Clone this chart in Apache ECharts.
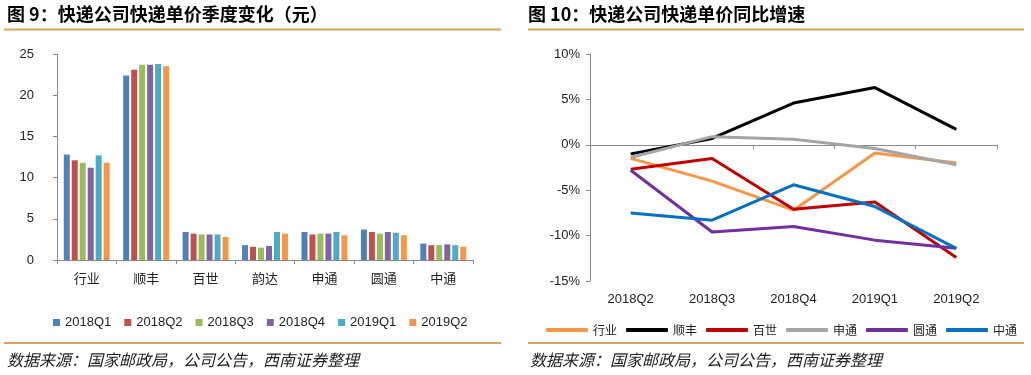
<!DOCTYPE html>
<html>
<head>
<meta charset="utf-8">
<script src="https://cdn.jsdelivr.net/npm/echarts@6/dist/echarts.min.js"></script>
<style>
html,body{margin:0;padding:0;background:#fff;}
#c{width:1031px;height:375px;}
</style>
</head>
<body>
<div id="c"></div>
<script>
// ---- Left chart data (元) ----
var companies = ['行业', '顺丰', '百世', '韵达', '申通', '圆通', '中通'];
var barSeriesNames = ['2018Q1', '2018Q2', '2018Q3', '2018Q4', '2019Q1', '2019Q2'];
var v2018Q1 = [12.8, 22.4, 3.4, 1.8, 3.4, 3.7, 2.0];
var v2018Q2 = [12.1, 23.1, 3.2, 1.6, 3.1, 3.4, 1.8];
var v2018Q3 = [11.8, 23.7, 3.1, 1.5, 3.2, 3.2, 1.8];
var v2018Q4 = [11.2, 23.7, 3.1, 1.7, 3.2, 3.4, 1.9];
var v2019Q1 = [12.7, 23.8, 3.1, 3.4, 3.4, 3.3, 1.8];
var v2019Q2 = [11.8, 23.5, 2.8, 3.2, 3.0, 3.0, 1.6];
var barValues = [v2018Q1, v2018Q2, v2018Q3, v2018Q4, v2019Q1, v2019Q2];

// ---- Right chart data (%) ----
var quarters = ['2018Q2', '2018Q3', '2018Q4', '2019Q1', '2019Q2'];
var lineSeriesNames = ['行业', '顺丰', '百世', '申通', '圆通', '中通'];
var gIndustry = [-1.5, -4.0, -7.2, -0.9, -2.0];
var gSF = [-1.0, 0.7, 4.6, 6.3, 1.7];
var gBest = [-2.7, -1.5, -7.1, -6.3, -12.4];
var gSTO = [-1.4, 0.9, 0.6, -0.4, -2.2];
var gYTO = [-2.8, -9.6, -9.0, -10.5, -11.4];
var gZTO = [-7.5, -8.3, -4.4, -6.8, -11.4];
var lineValues = [gIndustry, gSF, gBest, gSTO, gYTO, gZTO];

var barColors = ['#4F81BD', '#C0504D', '#9BBB59', '#8064A2', '#4BACC6', '#F79646'];
var lineColors = ['#F79646', '#000000', '#C00000', '#A5A5A5', '#7030A0', '#0070C0'];

var numFont = "'Liberation Sans', Arial, 'Noto Sans CJK SC', sans-serif";
var cjkFont = "'Noto Sans CJK SC', sans-serif";
var axisGray = '#898989';
var ruleColor = '#D9A35E';

var series = [];
barSeriesNames.forEach(function (n, i) {
  series.push({
    name: n, type: 'bar', xAxisIndex: 0, yAxisIndex: 0,
    data: barValues[i], barWidth: 6, barGap: '33%',
    itemStyle: { color: barColors[i] }
  });
});
lineSeriesNames.forEach(function (n, i) {
  series.push({
    name: n, type: 'line', xAxisIndex: 1, yAxisIndex: 1,
    data: lineValues[i], symbol: 'none', smooth: false,
    lineStyle: { width: 3, color: lineColors[i] },
    itemStyle: { color: lineColors[i] }
  });
});

var chart = echarts.init(document.getElementById('c'), null, { renderer: 'canvas' });
chart.setOption({
  animation: false,
  backgroundColor: '#fff',
  grid: [
    { left: 57, top: 54, width: 416, height: 206 },
    { left: 590, top: 54, width: 407, height: 227 }
  ],
  xAxis: [
    {
      gridIndex: 0, type: 'category', data: companies, position: 'bottom',
      axisLine: { lineStyle: { color: axisGray } },
      axisTick: { show: true, length: 4, lineStyle: { color: axisGray } },
      axisLabel: { margin: 12, fontSize: 13, color: '#222', fontFamily: cjkFont }
    },
    {
      gridIndex: 1, type: 'category', data: quarters, position: 'bottom',
      axisLine: { onZero: true, lineStyle: { color: axisGray } },
      axisTick: { show: true, length: 4, lineStyle: { color: axisGray } },
      axisLabel: { show: false }
    },
    {
      gridIndex: 1, type: 'category', data: quarters, position: 'bottom',
      axisLine: { show: false, onZero: false },
      axisTick: { show: false },
      axisLabel: { margin: 12, fontSize: 13, color: '#222', fontFamily: numFont }
    }
  ],
  yAxis: [
    {
      gridIndex: 0, type: 'value', min: 0, max: 25, interval: 5,
      splitLine: { show: false },
      axisLine: { show: true, lineStyle: { color: axisGray } },
      axisTick: { show: true, length: 4, lineStyle: { color: axisGray } },
      axisLabel: { margin: 23, fontSize: 13, color: '#222', fontFamily: numFont }
    },
    {
      gridIndex: 1, type: 'value', min: -15, max: 10, interval: 5,
      splitLine: { show: false },
      axisLine: { show: true, lineStyle: { color: axisGray } },
      axisTick: { show: true, length: 4, lineStyle: { color: axisGray } },
      axisLabel: { margin: 10, fontSize: 13, color: '#222', fontFamily: numFont, formatter: '{value}%' }
    }
  ],
  legend: [
    {
      data: barSeriesNames, left: 48, top: 311,
      icon: 'rect', itemWidth: 7, itemHeight: 7, itemGap: 13,
      textStyle: { fontSize: 13, color: '#222', fontFamily: numFont }
    },
    {
      data: lineSeriesNames, left: 541, top: 319,
      icon: 'roundRect', itemWidth: 42, itemHeight: 4, itemGap: 9,
      textStyle: { fontSize: 12, color: '#222', fontFamily: cjkFont }
    }
  ],
  graphic: [
    { type: 'text', x: 7, y: 14, style: { text: '图 9：快递公司快递单价季度变化（元）', fontSize: 18, fontWeight: 'bold', fontFamily: cjkFont, fill: '#000', verticalAlign: 'middle' } },
    { type: 'text', x: 528, y: 14, style: { text: '图 10：快递公司快递单价同比增速', fontSize: 18, fontWeight: 'bold', fontFamily: cjkFont, fill: '#000', verticalAlign: 'middle' } },
    { type: 'line', shape: { x1: 4, y1: 29.5, x2: 501, y2: 29.5 }, style: { stroke: ruleColor, lineWidth: 2 } },
    { type: 'line', shape: { x1: 528, y1: 29.5, x2: 1024, y2: 29.5 }, style: { stroke: ruleColor, lineWidth: 2 } },
    { type: 'line', shape: { x1: 4, y1: 343, x2: 501, y2: 343 }, style: { stroke: ruleColor, lineWidth: 2 } },
    { type: 'line', shape: { x1: 528, y1: 343, x2: 1024, y2: 343 }, style: { stroke: ruleColor, lineWidth: 2 } },
    { type: 'text', x: 7, y: 360, style: { text: '数据来源：国家邮政局，公司公告，西南证券整理', fontSize: 16, fontStyle: 'italic', fontFamily: cjkFont, fill: '#222', verticalAlign: 'middle' } },
    { type: 'text', x: 530, y: 360, style: { text: '数据来源：国家邮政局，公司公告，西南证券整理', fontSize: 16, fontStyle: 'italic', fontFamily: cjkFont, fill: '#222', verticalAlign: 'middle' } }
  ],
  series: series
});
</script>
</body>
</html>
